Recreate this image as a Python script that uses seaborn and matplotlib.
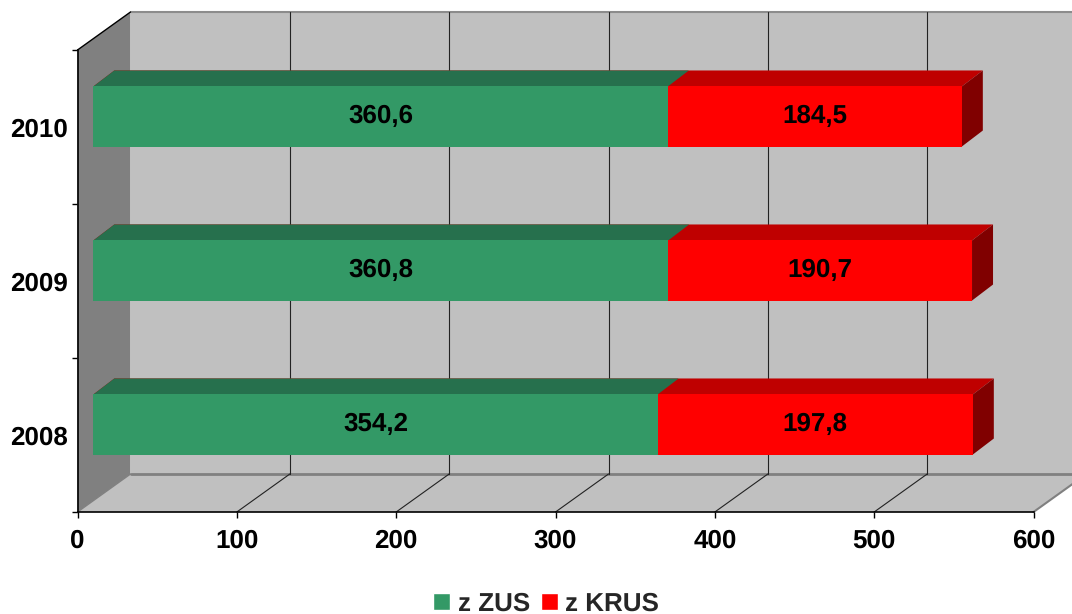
import matplotlib
matplotlib.use('Agg')
import matplotlib.pyplot as plt
import pandas as pd
import seaborn as sns
from matplotlib.patches import Patch, Polygon

years = ['2010', '2009', '2008']
zus = [360.6, 360.8, 354.2]
krus = [184.5, 190.7, 197.8]
x_ticks = [0, 100, 200, 300, 400, 500, 600]
series_names = ['z ZUS', 'z KRUS']

GREEN, GREEN_TOP = '#339966', '#26704d'
RED, RED_TOP, RED_SIDE = '#ff0000', '#bf0000', '#800000'
WALL, SIDE_WALL = '#c0c0c0', '#808080'

sns.set_theme(style='white')
plt.rcParams['font.family'] = ['Liberation Sans', 'DejaVu Sans']
plt.rcParams['font.weight'] = 'bold'
plt.rcParams['text.hinting'] = 'none'
plt.rcParams['text.hinting_factor'] = 1

W, H = 1072, 614
FONT = 18.6
fig = plt.figure(figsize=(W / 100, H / 100), dpi=100)
ax = fig.add_axes([77.5 / W, 1 - 512 / H, 956 / W, 462 / H])
ax.patch.set_visible(False)

# one data unit in pixels, used to turn the 3d offsets into data units
px_x = 956 / 600
px_y = 462 / 3


def dx(px):
    return px / px_x


def dy(px):
    # y axis is inverted, so going up on screen means a smaller value
    return -px / px_y


def face(points, color, zorder):
    ax.add_patch(Polygon(points, closed=True, facecolor=color, edgecolor='none', clip_on=False, zorder=zorder))


df = pd.DataFrame({'year': years, 'zus': zus, 'krus': krus})
df['total'] = df['zus'] + df['krus']

# front faces: total in red, zus on top of it
sns.barplot(data=df, y='year', x='total', order=years, color=RED, saturation=1, width=0.39, ax=ax, zorder=5,
            linewidth=0, edgecolor='none')
n_red = len(ax.patches)
sns.barplot(data=df, y='year', x='zus', order=years, color=GREEN, saturation=1, width=0.39, ax=ax, zorder=6,
            linewidth=0, edgecolor='none')

ax.set_xlim(0, 600)
ax.set_ylim(2.5, -0.5)

# walls and floor
wx, wy = dx(53), dy(38)
y_top, y_bot = -0.5, 2.5
x_end = 600
face([(0, y_bot), (wx, y_bot + wy), (wx, y_top + wy), (0, y_top)], SIDE_WALL, 1)
face([(wx, y_bot + wy), (x_end + wx, y_bot + wy), (x_end + wx, y_top + wy), (wx, y_top + wy)], WALL, 1)
face([(0, y_bot), (x_end, y_bot), (x_end + wx, y_bot + wy), (wx, y_bot + wy)], WALL, 1)

ax.plot([wx, x_end + wx], [y_top + wy] * 2, color='#8c8c8c', lw=1.5, clip_on=False, zorder=2)
ax.plot([wx, x_end + wx], [y_bot + wy] * 2, color='#808080', lw=2, clip_on=False, zorder=2)
ax.plot([0, wx], [y_bot, y_bot + wy], color='#808080', lw=1, clip_on=False, zorder=2)
ax.plot([x_end, x_end + wx], [y_bot, y_bot + wy], color='#808080', lw=1.5, clip_on=False, zorder=2)
ax.plot([0, wx], [y_top, y_top + wy], color='black', lw=1, clip_on=False, zorder=2)

for t in x_ticks[1:-1]:
    ax.plot([t + wx, t + wx], [y_top + wy, y_bot + wy], color='#222222', lw=0.8, clip_on=False, zorder=2)
    ax.plot([t, t + wx], [y_bot, y_bot + wy], color='#222222', lw=0.8, clip_on=False, zorder=2)

# bars sit a bit behind the axis plane
off_x, off_y = dx(15.8), dy(10.5)
bx, by = dx(21), dy(16)
for i, bar in enumerate(list(ax.patches)):
    if isinstance(bar, Polygon):
        continue
    bar.set_clip_on(False)
    x0, w = bar.get_x(), bar.get_width()
    y0, h = bar.get_y(), bar.get_height()
    bar.set_x(x0 + off_x)
    bar.set_y(y0 + off_y)
    left, right = x0 + off_x, x0 + w + off_x
    top, bottom = y0 + off_y, y0 + h + off_y
    if i < n_red:
        face([(left, top), (right, top), (right + bx, top + by), (left + bx, top + by)], RED_TOP, 3)
        face([(right, top), (right + bx, top + by), (right + bx, bottom + by), (right, bottom)], RED_SIDE, 3)
    else:
        face([(left, top), (right, top), (right + bx, top + by), (left + bx, top + by)], GREEN_TOP, 4)

for i, year in enumerate(years):
    ax.text(zus[i] / 2 + off_x, i + off_y, f'{zus[i]:.1f}'.replace('.', ','), ha='center', va='center',
            fontsize=FONT, fontweight='bold', color='black', zorder=7)
    ax.text(zus[i] + krus[i] / 2 + off_x, i + off_y, f'{krus[i]:.1f}'.replace('.', ','), ha='center', va='center',
            fontsize=FONT, fontweight='bold', color='black', zorder=7)

# axes
ax.set_xlabel('')
ax.set_ylabel('')
ax.set_xticks(x_ticks)
ax.set_xticklabels([str(t) for t in x_ticks], fontsize=FONT, fontweight='bold', color='black')
ax.set_yticks(range(3))
ax.set_yticklabels(years, fontsize=FONT, fontweight='bold', color='black')
ax.set_yticks([-0.5, 0.5, 1.5, 2.5], minor=True)
ax.tick_params(axis='y', which='major', length=0, pad=7)
ax.tick_params(axis='y', which='minor', left=True, length=4.5, width=1, color='black')
ax.tick_params(axis='x', bottom=True, length=4.5, width=1, color='black', pad=7.5)
sns.despine(ax=ax, top=True, right=True)
for side in ['left', 'bottom']:
    ax.spines[side].set_color('black')
    ax.spines[side].set_linewidth(1.2)
    ax.spines[side].set_zorder(8)

handles = [Patch(facecolor=GREEN, label=series_names[0]), Patch(facecolor=RED, label=series_names[1])]
fig.legend(handles=handles, loc='center', bbox_to_anchor=(546 / W, 1 - 604 / H), ncol=2, frameon=False,
           prop={'family': 'Liberation Sans', 'weight': 'bold', 'size': FONT},
           handlelength=0.66, handleheight=0.66, handletextpad=0.3, columnspacing=0.42,
           borderpad=0, borderaxespad=0)

fig.savefig('out.png', dpi=100, facecolor='white')
